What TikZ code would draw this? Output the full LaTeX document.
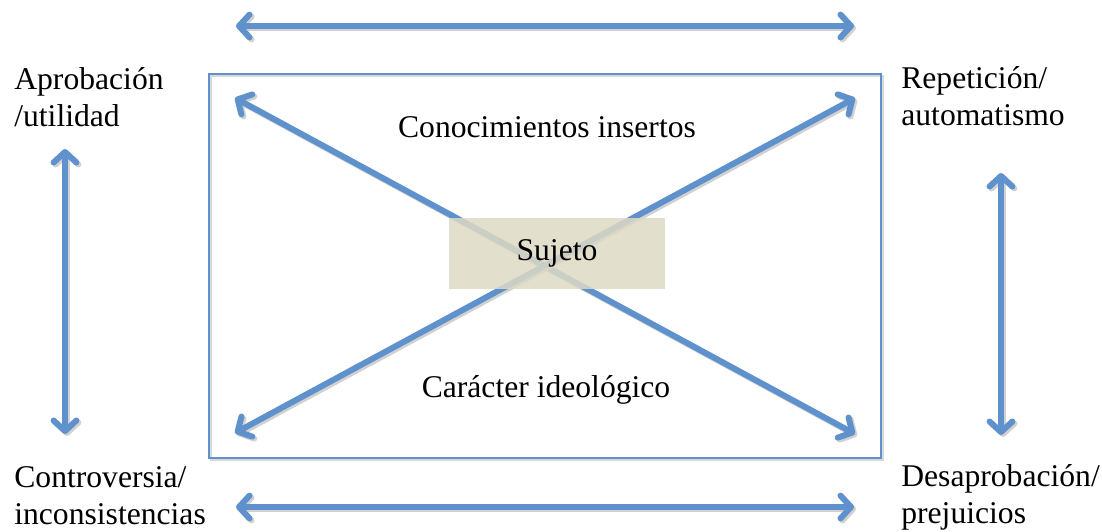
\documentclass[tikz,border=0pt]{standalone}
\usepackage{fontspec}
\setmainfont{Liberation Serif}
\usetikzlibrary{arrows.meta}
\definecolor{arrowblue}{RGB}{95,146,204}
\definecolor{sujetotan}{RGB}{221,217,196}
\tikzset{
    bigarrow/.style={line width=3.4pt, line cap=round, {Straight Barb[length=6pt,width=13pt,round]}-{Straight Barb[length=6pt,width=13pt,round]}},
    label/.style={anchor=base west, align=left, inner sep=0, font=\fontsize{18}{21}\selectfont}
}
\begin{document}
\begin{tikzpicture}[x=0.02cm, y=-0.02cm]
    \useasboundingbox (0,0) rectangle (1102,531);
    % corner labels (base = last line)
    \node[label] (aprob) at (14,126) {Aprobación\\/utilidad};
    \node[label] (repet) at (901,125) {Repetición/\\automatismo};
    \node[label] (contro) at (14,524) {Controversia/\\inconsistencias};
    \node[label] (desap) at (901,523) {Desaprobación/\\prejuicios};
    % frame
    \draw[black!15, line width=1.2pt] (211,76) rectangle (883,460);
    \draw[arrowblue, line width=1.1pt] (209,74) rectangle (881,458);
    % arrow ends
    \coordinate (topL) at (236,26);   \coordinate (topR) at (854,26);
    \coordinate (botL) at (236,507);  \coordinate (botR) at (854,507);
    \coordinate (diagTL) at (235,98); \coordinate (diagBR) at (855,434);
    \coordinate (diagBL) at (235,433); \coordinate (diagTR) at (855,98);
    \coordinate (leftT) at (65,149);  \coordinate (leftB) at (65,434);
    \coordinate (rightT) at (1001,173); \coordinate (rightB) at (1001,435);
    \foreach \a/\b in {topL/topR, botL/botR, diagTL/diagBR, diagBL/diagTR, leftT/leftB, rightT/rightB} {
        \draw[bigarrow, black!18, transform canvas={shift={(2,2)}}] (\a) -- (\b);
        \draw[bigarrow, arrowblue] (\a) -- (\b);
    }
    % texts in the frame
    \node[anchor=base, inner sep=0, font=\fontsize{18}{21}\selectfont] (conoc) at (547,137) {Conocimientos insertos};
    \node[anchor=base, inner sep=0, font=\fontsize{18}{21}\selectfont] (carac) at (546,397) {Carácter ideológico};
    \node[fill=sujetotan, fill opacity=0.85, text opacity=1, minimum width=4.32cm, minimum height=1.42cm, inner sep=0, font=\fontsize{18}{21}\selectfont] (sujeto) at (557,253.5) {\raisebox{3pt}{Sujeto}};
\end{tikzpicture}
\end{document}
